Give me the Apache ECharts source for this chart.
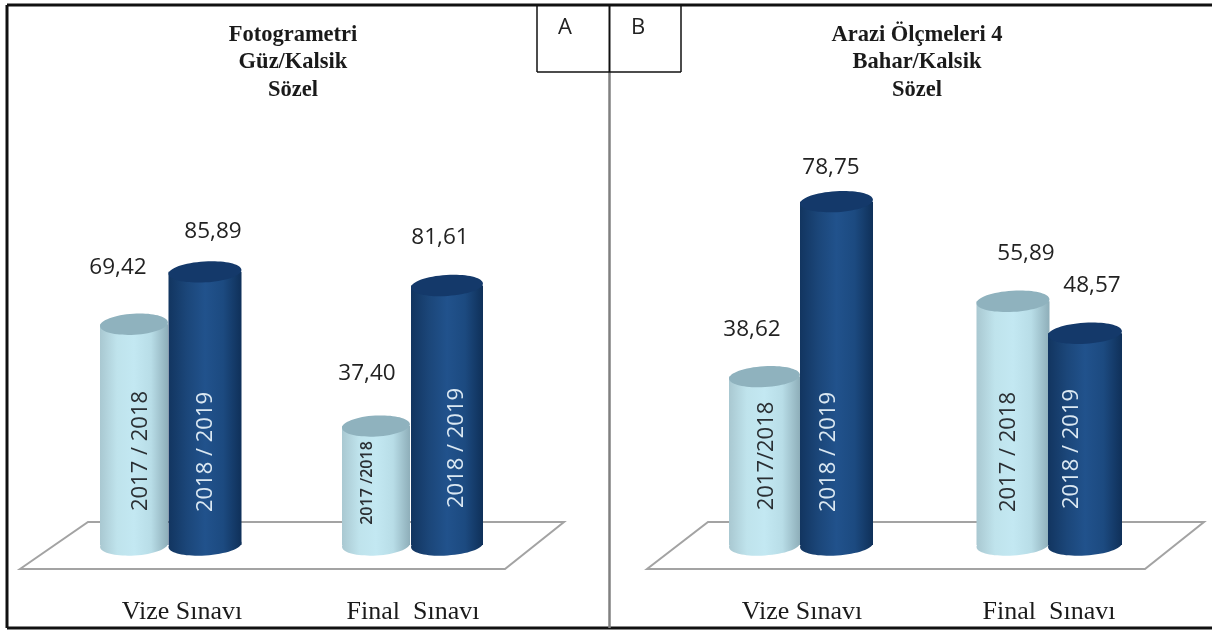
<!DOCTYPE html>
<html><head><meta charset="utf-8">
<style>html,body{margin:0;padding:0;background:#fff}#c{width:1212px;height:630px}</style>
<script src="https://cdn.jsdelivr.net/npm/echarts@6/dist/echarts.min.js"></script>
</head><body><div id="c"></div>
<script>
const categoriesA = ['Vize Sınavı', 'Final  Sınavı'];
const categoriesB = ['Vize Sınavı', 'Final  Sınavı'];
const values2017A = [69.42, 37.40];
const values2018A = [85.89, 81.61];
const values2017B = [38.62, 55.89];
const values2018B = [78.75, 48.57];
const yearLabels2017A = ['2017 / 2018', '2017 /2018'];
const yearLabels2018A = ['2018 / 2019', '2018 / 2019'];
const yearLabels2017B = ['2017/2018', '2017 / 2018'];
const yearLabels2018B = ['2018 / 2019', '2018 / 2019'];
const titleA = 'Fotogrametri\nGüz/Kalsik\nSözel';
const titleB = 'Arazi Ölçmeleri 4\nBahar/Kalsik\nSözel';

const fmt = v => v.toFixed(2).replace('.', ',');
const SANS = '"Open Sans"', SERIF = '"Liberation Serif"';

function vgrad(stops) {
  return { type: 'linear', x: 0, y: 0, x2: 1, y2: 0,
    colorStops: stops.map((c, i) => ({ offset: i / (stops.length - 1), color: c })) };
}
const LIGHT = { body: vgrad(['#a9c8d1', '#bfe3ec', '#c3e8f2', '#b8dde7', '#8eaeb9']), top: '#8fb2be', text: '#2a2f33' };
const DARK = { body: vgrad(['#123560', '#1b4679', '#21528c', '#1c4a80', '#0f3059']), top: '#14396a', text: '#dbe8f2' };

// Per point: dx = bar centre from category centre, w = width, lx/ly = value label from bar top,
// tx/ty = inner text from bar base, ts/tw = inner text size and weight
function cylinderSeries(xIdx, values, yearLabels, pal, layout, z) {
  return {
    type: 'custom', xAxisIndex: xIdx, yAxisIndex: xIdx, z: z, clip: false,
    encode: { x: 0, y: 1 },
    data: values.map((v, i) => [i, v, yearLabels[i]]),
    renderItem: function (params, api) {
      const i = api.value(0), v = api.value(1);
      const L = layout[i];
      const top = api.coord([i, v]), base = api.coord([i, 0]);
      const cx = top[0] + L.dx, w = L.w, rx = w / 2, ry = 10.5, rot = 0.06;
      return {
        type: 'group',
        children: [
          { type: 'ellipse', shape: { cx: cx, cy: base[1], rx: rx, ry: ry }, rotation: rot, originX: cx, originY: base[1], style: { fill: pal.body } },
          { type: 'rect', shape: { x: cx - rx, y: top[1], width: w, height: base[1] - top[1] }, style: { fill: pal.body } },
          { type: 'ellipse', shape: { cx: cx, cy: top[1], rx: rx, ry: ry }, rotation: rot, originX: cx, originY: top[1], style: { fill: pal.top } },
          { type: 'text', rotation: Math.PI / 2, x: cx + L.tx + 2, y: base[1] - L.ty,
            style: { text: api.value(2), fill: pal.text, align: 'center', verticalAlign: 'middle',
              font: (L.tw || 'normal') + ' ' + (L.ts || 22) + 'px ' + SANS } },
          { type: 'text', x: cx + L.lx, y: top[1] + L.ly,
            style: { text: fmt(v), fill: '#222', align: 'center', verticalAlign: 'middle', font: '22.5px ' + SANS } }
        ]
      };
    }
  };
}

const layout17A = [
  { dx: -48, w: 68, lx: -16, ly: -57, tx: 5, ty: 94 },
  { dx: -37, w: 68, lx: -9, ly: -52, tx: -11, ty: 62, ts: 16, tw: '600' }
];
const layout18A = [
  { dx: 23, w: 73, lx: 8, ly: -40, tx: -1, ty: 93 },
  { dx: 34, w: 72, lx: -7, ly: -47.5, tx: 8, ty: 97 }
];
const layout17B = [
  { dx: -37.5, w: 71, lx: -12.5, ly: -46.6, tx: 0, ty: 89 },
  { dx: -36, w: 73, lx: 13, ly: -47.3, tx: -6, ty: 93 }
];
const layout18B = [
  { dx: 34.5, w: 73, lx: -5.5, ly: -33.6, tx: -9.5, ty: 93 },
  { dx: 36, w: 74, lx: 7, ly: -48, tx: -15, ty: 96 }
];

function xAxis(gridIndex, cats) {
  return {
    type: 'category', gridIndex: gridIndex, data: cats,
    axisLine: { show: false }, axisTick: { show: false },
    axisLabel: { margin: 54, color: '#1a1a1a', fontFamily: SERIF, fontSize: 26, interval: 0 }
  };
}
function yAxis(gridIndex) {
  return { type: 'value', gridIndex: gridIndex, min: 0, max: 100, show: false };
}
function line(x1, y1, x2, y2, color, width, z) {
  return { type: 'line', shape: { x1, y1, x2, y2 }, style: { stroke: color, lineWidth: width }, z: z, silent: true };
}
function floor(points) {
  return { type: 'polygon', shape: { points }, style: { fill: '#fff', stroke: '#a3a3a3', lineWidth: 2 }, z: -1, silent: true };
}
function letter(t, x, y) {
  return { type: 'text', x, y, style: { text: t, fill: '#222', font: '22px ' + SANS, align: 'center', verticalAlign: 'middle' }, z: 20, silent: true };
}

const chart = echarts.init(document.getElementById('c'), null, { renderer: 'canvas' });
chart.setOption({
  animation: false,
  backgroundColor: '#fff',
  title: [
    { text: titleA, left: 288, top: 16, textAlign: 'center',
      textStyle: { fontFamily: SERIF, fontWeight: 'bold', fontSize: 22.5, lineHeight: 27.5, color: '#1a1a1a' } },
    { text: titleB, left: 912, top: 16, textAlign: 'center',
      textStyle: { fontFamily: SERIF, fontWeight: 'bold', fontSize: 22.5, lineHeight: 27.5, color: '#1a1a1a' } }
  ],
  grid: [
    { left: 66.5, width: 462, top: 227, height: 318 },
    { left: 678.5, width: 494, top: 109, height: 436 }
  ],
  xAxis: [xAxis(0, categoriesA), xAxis(1, categoriesB)],
  yAxis: [yAxis(0), yAxis(1)],
  series: [
    cylinderSeries(0, values2017A, yearLabels2017A, LIGHT, layout17A, 2),
    cylinderSeries(0, values2018A, yearLabels2018A, DARK, layout18A, 3),
    cylinderSeries(1, values2017B, yearLabels2017B, LIGHT, layout17B, 2),
    cylinderSeries(1, values2018B, yearLabels2018B, DARK, layout18B, 3)
  ],
  graphic: { elements: [
    floor([[20, 569], [88, 522], [564, 522], [505, 569]]),
    floor([[647, 569], [708, 522], [1204, 522], [1145, 569]]),
    line(7, 5, 1212, 5, '#111', 3, 20),
    line(7, 5, 7, 628, '#111', 3, 20),
    line(7, 628, 1212, 628, '#111', 3, 20),
    line(609.5, 72, 609.5, 628, '#808080', 2.5, 20),
    line(609.5, 5, 609.5, 72, '#111', 2, 20),
    line(537, 72, 681, 72, '#111', 1.5, 20),
    line(537, 5, 537, 72, '#111', 1.5, 20),
    line(681, 5, 681, 72, '#111', 1.5, 20),
    letter('A', 565, 28),
    letter('B', 638, 28)
  ]}
});
</script></body></html>
